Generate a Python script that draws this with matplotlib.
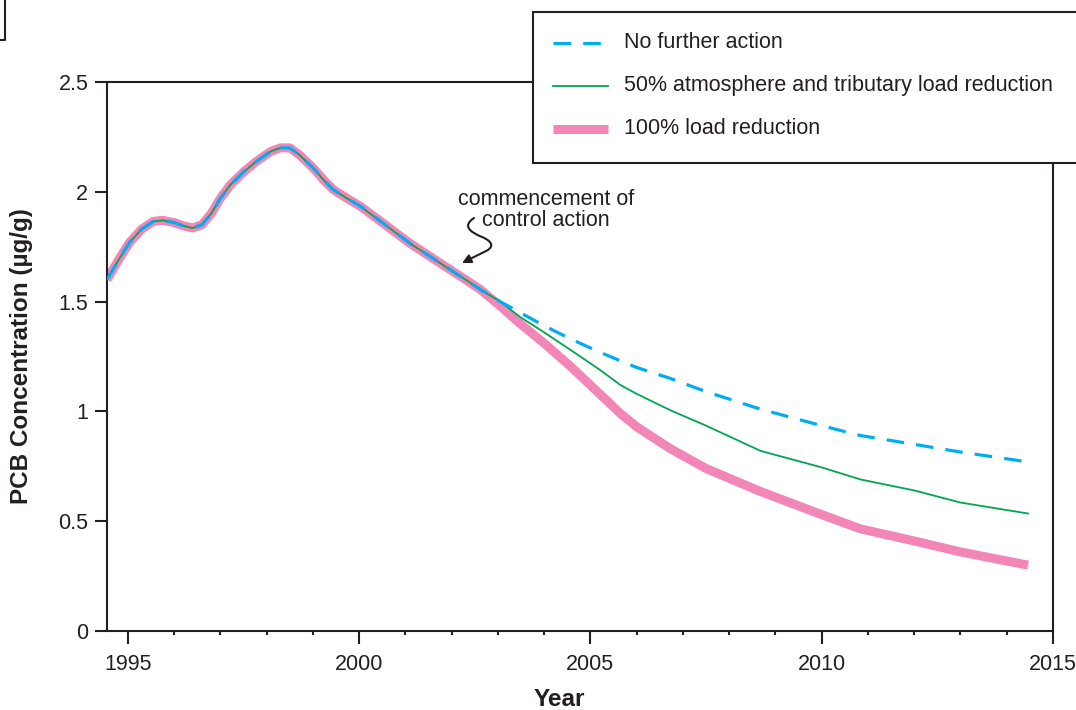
import matplotlib
matplotlib.use("Agg")
import matplotlib.pyplot as plt
from matplotlib.lines import Line2D
from matplotlib.patches import Rectangle, FancyArrowPatch
from matplotlib.path import Path
from matplotlib.ticker import MultipleLocator

plt.rcParams['font.family'] = ['Liberation Sans', 'DejaVu Sans']

# ---- data ----
common_years = [1994.55, 1994.8, 1995.04, 1995.3, 1995.55, 1995.75, 1996.0, 1996.2, 1996.4,
                1996.6, 1996.8, 1997.0, 1997.21, 1997.5, 1997.79, 1998.1, 1998.3, 1998.5,
                1998.7, 1999.0, 1999.25, 1999.44, 1999.7, 2000.02, 2000.5, 2001.1,
                2001.5, 2001.97, 2002.3, 2002.62, 2003.05]
common_vals = [1.60, 1.69, 1.77, 1.83, 1.865, 1.87, 1.86, 1.845, 1.835,
               1.85, 1.90, 1.97, 2.03, 2.09, 2.14, 2.185, 2.20, 2.20,
               2.17, 2.11, 2.05, 2.01, 1.975, 1.935, 1.86, 1.765,
               1.71, 1.645, 1.60, 1.555, 1.50]

future_years = [2003.05, 2003.48, 2004.0, 2004.57, 2005.2, 2005.65, 2006.0, 2006.73,
                2007.5, 2008.68, 2010.0, 2010.84, 2012.0, 2013.0, 2014.46]
no_action = [1.50, 1.45, 1.39, 1.33, 1.27, 1.23, 1.20, 1.15,
             1.09, 1.01, 0.935, 0.89, 0.85, 0.815, 0.77]
half_reduction = [1.50, 1.43, 1.36, 1.28, 1.19, 1.12, 1.08, 1.005,
                  0.935, 0.82, 0.745, 0.69, 0.64, 0.585, 0.535]
full_reduction = [1.48, 1.40, 1.31, 1.205, 1.08, 0.99, 0.93, 0.83,
                  0.74, 0.635, 0.53, 0.465, 0.41, 0.36, 0.30]

labels = ["No further action",
          "50% atmosphere and tributary load reduction",
          "100% load reduction"]
colors = ["#00AEEF", "#00A651", "#F287B7"]

x_label = "Year"
y_label = "PCB Concentration (\u00b5g/g)"
note = "commencement of\ncontrol action"

# ---- figure ----
W, H = 1076, 710
fig = plt.figure(figsize=(W / 100, H / 100), dpi=100)


def px(x, y):
    return (x / W, 1 - y / H)


ax = fig.add_axes([107 / W, 1 - 631 / H, (1053 - 107) / W, (631 - 82) / H])

# series (pink under green under blue)
pink_x = common_years[:-1] + future_years
pink_y = common_vals[:-1] + full_reduction
green_x = common_years[:-1] + future_years
green_y = common_vals[:-1] + half_reduction
blue_x = common_years[:-1] + future_years
blue_y = common_vals[:-1] + no_action

ax.plot(pink_x, pink_y, color=colors[2], lw=6.5, solid_capstyle='butt',
        solid_joinstyle='round', zorder=2)
ax.plot(green_x, green_y, color=colors[1], lw=1.3, zorder=3)
ax.plot(blue_x, blue_y, color=colors[0], lw=2.3, dashes=(5.5, 3.8), zorder=4)

ax.set_xlim(1994.55, 2015)
ax.set_ylim(0, 2.5)
ax.xaxis.set_major_locator(MultipleLocator(5))
ax.xaxis.set_minor_locator(MultipleLocator(1))
ax.set_yticks([0, 0.5, 1, 1.5, 2, 2.5])
ax.set_yticklabels(["0", "0.5", "1", "1.5", "2", "2.5"])

for s in ax.spines.values():
    s.set_linewidth(1.5)
    s.set_color("#231F20")
ax.tick_params(axis='both', which='major', direction='out', width=1.5,
               colors="#231F20", labelsize=15.5)
ax.tick_params(axis='x', which='major', length=9.5, pad=7)
ax.tick_params(axis='x', which='minor', direction='out', length=3, width=1.5,
               colors="#231F20")
ax.tick_params(axis='y', which='major', length=8.5, pad=5)

ax.set_xlabel(x_label, fontsize=17.5, fontweight='bold', color="#231F20")
ax.xaxis.set_label_coords((559 - 107) / (1053 - 107), -(699 - 631) / (631 - 82))
ax.set_ylabel(y_label, fontsize=17.5, fontweight='bold', color="#231F20")
ax.yaxis.set_label_coords(-(107 - 22) / (1053 - 107), 0.5)
ax.xaxis.label.set_va('center')
ax.yaxis.label.set_va('center')

# annotation
fig.text(*px(546, 210), note, ha='center', va='center', fontsize=15.5,
         color="#231F20", linespacing=1.05)
verts = [px(474, 218), px(462, 226), px(470, 232), px(482, 237),
         px(494, 242), px(494, 248), px(484, 252), px(462, 263)]
codes = [Path.MOVETO, Path.CURVE4, Path.CURVE4, Path.CURVE4,
         Path.CURVE4, Path.CURVE4, Path.CURVE4, Path.LINETO]
arrow = FancyArrowPatch(path=Path(verts, codes), arrowstyle='-|>', mutation_scale=13,
                        lw=1.5, color="#231F20", transform=fig.transFigure)
fig.add_artist(arrow)

# legend box (cut at right edge)
lx0, ly0, ly1 = 533, 12, 163
rect = Rectangle(px(lx0, ly1), (W + 10 - lx0) / W, (ly1 - ly0) / H,
                 transform=fig.transFigure, facecolor='white', edgecolor="#231F20",
                 lw=1.5, zorder=10, clip_on=False)
fig.add_artist(rect)
leg_y = [43, 86, 129]
styles = [dict(color=colors[0], lw=2.3, dashes=(5.5, 3.8)),
          dict(color=colors[1], lw=1.3),
          dict(color=colors[2], lw=6.5, solid_capstyle='butt')]
for yy, lab, st in zip(leg_y, labels, styles):
    (x0, y0), (x1, _) = px(553, yy), px(608, yy)
    fig.add_artist(Line2D([x0, x1], [y0, y0], transform=fig.transFigure, zorder=11, **st))
    fig.text(*px(624, yy), lab, ha='left', va='center', fontsize=15.5,
             color="#231F20", zorder=12)

# partial frame at the top-left corner
fig.add_artist(Line2D([px(0, 0)[0], px(5, 0)[0], px(5, 0)[0]],
                      [px(0, 40)[1], px(0, 40)[1], px(0, -5)[1]],
                      transform=fig.transFigure, color="#231F20", lw=1.5))

fig.savefig("out.png", dpi=100)
